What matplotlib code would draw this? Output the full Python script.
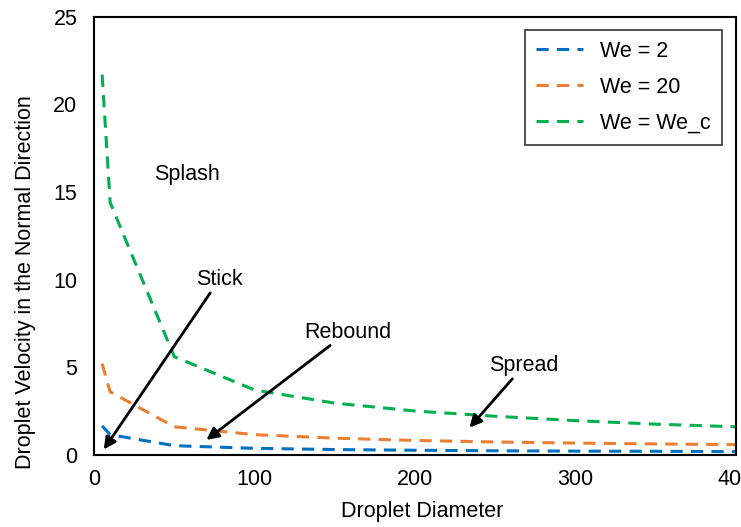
import matplotlib.pyplot as plt

plt.rcParams['font.family'] = ['Liberation Sans', 'DejaVu Sans']

# droplet diameter values
diametro = [5, 10, 50, 100, 150, 200, 250, 300, 350, 400]
# normal velocity for each Weber number
we_2 = [1.65, 1.15, 0.52, 0.37, 0.30, 0.26, 0.23, 0.21, 0.20, 0.18]
we_20 = [5.2, 3.6, 1.6, 1.15, 0.95, 0.82, 0.73, 0.67, 0.62, 0.58]
we_c = [21.7, 14.4, 5.6, 3.7, 2.95, 2.5, 2.2, 1.95, 1.75, 1.6]

fig = plt.figure(figsize=(7.41, 5.27), dpi=100)
ax = fig.add_axes([0.127, 0.137, 0.866, 0.831])

estilo = dict(linestyle=(0, (4, 2.7)), linewidth=2.2)
ax.plot(diametro, we_2, color='#0070C0', label='We = 2', **estilo)
ax.plot(diametro, we_20, color='#ED7D31', label='We = 20', **estilo)
ax.plot(diametro, we_c, color='#00B050', label='We = We_c', **estilo)

fs = 15.5
flecha = dict(arrowstyle='-|>', color='black', lw=2, mutation_scale=18,
              shrinkA=0, shrinkB=0)
ax.text(58, 16, 'Splash', fontsize=fs, ha='center', va='center')
ax.annotate('Stick', xy=(6, 0.3), xytext=(78, 10.0), fontsize=fs,
            ha='center', va='center', arrowprops=flecha)
ax.annotate('Rebound', xy=(70, 0.85), xytext=(158, 7.0), fontsize=fs,
            ha='center', va='center', arrowprops=flecha)
ax.annotate('Spread', xy=(234, 1.55), xytext=(268, 5.1), fontsize=fs,
            ha='center', va='center', arrowprops=flecha)

ax.set_xlim(0, 400)
ax.set_ylim(0, 25)
ax.set_xticks([0, 100, 200, 300, 400])
ax.set_yticks([0, 5, 10, 15, 20, 25])
ax.tick_params(length=0, labelsize=fs)
ax.tick_params(axis='y', pad=12)
ax.tick_params(axis='x', pad=10)
for s in ax.spines.values():
    s.set_linewidth(1.5)
ax.set_xlabel('Droplet Diameter', fontsize=fs)
ax.set_ylabel('Droplet Velocity in the Normal Direction', fontsize=fs)
ax.xaxis.set_label_coords(0.512, -0.105)
ax.yaxis.set_label_coords(-0.090, 0.395)

leg = ax.legend(loc='upper right', fontsize=fs, fancybox=False, edgecolor='black',
                handlelength=2.2, borderpad=0.5, labelspacing=0.7,
                borderaxespad=0, bbox_to_anchor=(0.978, 0.97))
leg.get_frame().set_linewidth(1.2)

fig.savefig('out.png', dpi=100)
